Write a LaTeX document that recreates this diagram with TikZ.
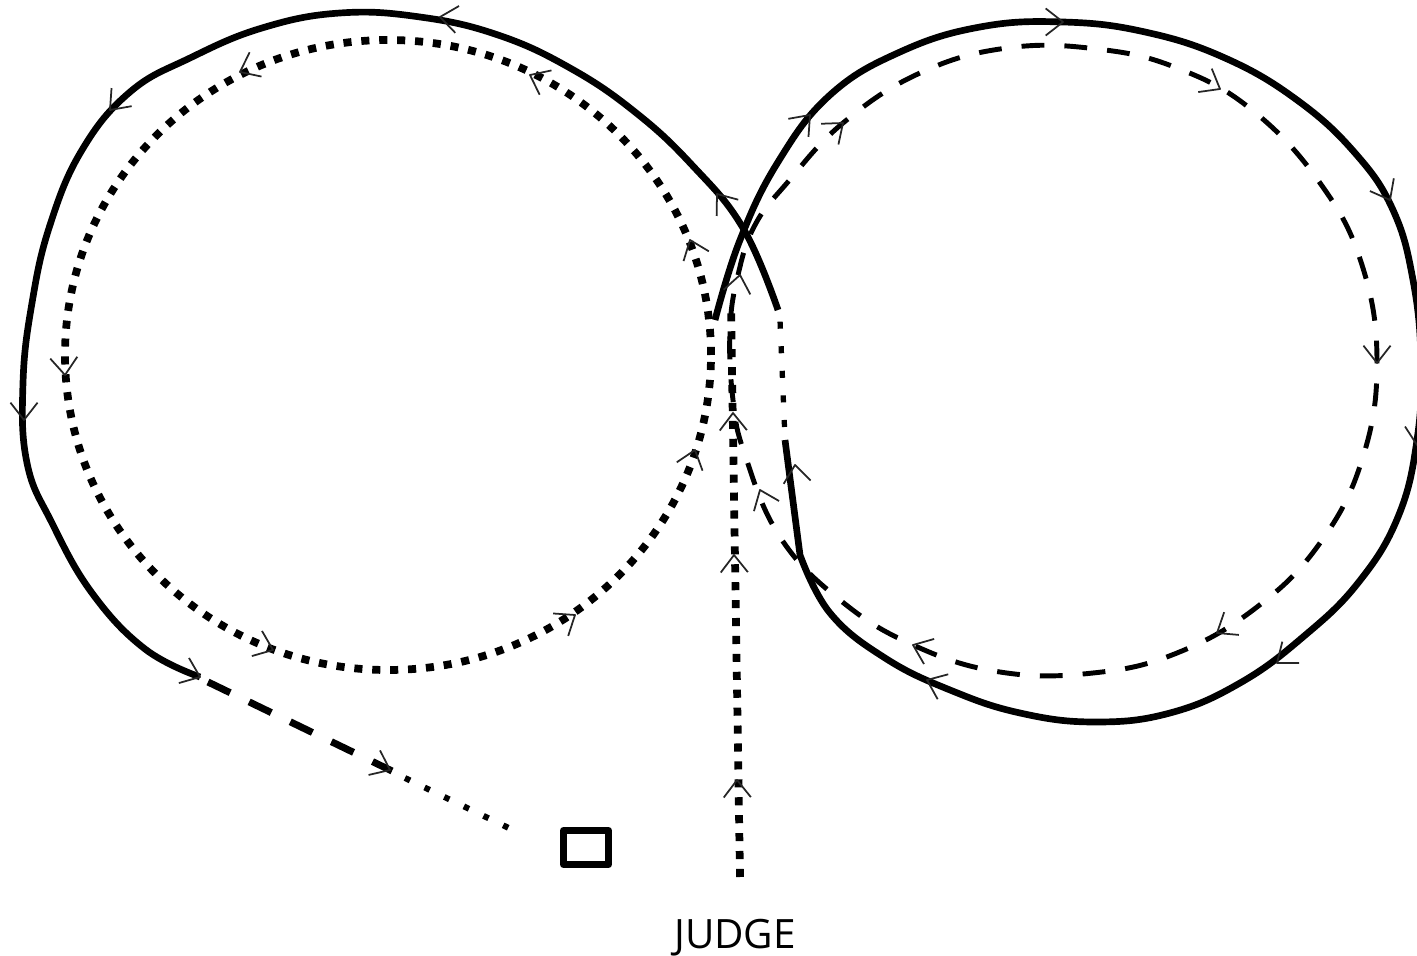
\documentclass[tikz,border=0pt]{standalone}
\usepackage{fontspec}
\newfontfamily\judgefont{Open Sans}
\usepackage{xcolor}

% small open tip put on a track: x, y, heading
\newcommand{\flowtip}[3]{\draw[tipline] (#1,#2) ++(#3+142:0.22) -- (#1,#2) -- ++(#3-142:0.22);}

\begin{document}
\begin{tikzpicture}[line join=round,
  solidtrack/.style={line width=1.9pt},
  dottrack/.style={line width=2.2pt,dash pattern=on 2.3pt off 2.8pt},
  dashtrack/.style={line width=1.4pt,dash pattern=on 6.5pt off 5.7pt},
  linkdots/.style={line width=1.5pt,dash pattern=on 2pt off 5pt},
  exitdash/.style={line width=2pt,dash pattern=on 7pt off 6pt},
  exitdots/.style={line width=1.7pt,dash pattern=on 1.6pt off 4.6pt},
  tipline/.style={black!85,line width=0.5pt}]
\useasboundingbox (0,0) rectangle (14.17,9.55);

% left ring (dotted) and centre line from the judge
\draw[dottrack] (3.88,6.00) ellipse (3.23 and 3.15);
\coordinate (start) at (7.40,0.78);
\coordinate (centre) at (7.31,6.50);
\draw[dottrack] (start) -- (centre);

% right ring (dashed)
\draw[dashtrack] plot[smooth cycle,tension=0.7] coordinates {(7.30,6.25) (7.38,6.80) (7.55,7.30) (7.87,7.72) (8.43,8.32) (9.20,8.82) (10.07,9.07) (10.97,9.06) (11.77,8.87) (12.52,8.45) (13.20,7.72) (13.62,6.90) (13.77,5.92) (13.62,4.95) (13.20,4.12) (12.57,3.48) (11.77,3.02) (10.93,2.82) (10.00,2.83) (9.13,3.10) (8.40,3.55) (7.80,4.18) (7.45,5.00) (7.33,5.55)};

% figure of eight (solid)
\draw[solidtrack] plot[smooth,tension=0.7] coordinates {(7.15,6.35) (7.40,7.15) (7.78,7.93) (8.30,8.60) (9.00,9.03) (9.80,9.28) (10.63,9.33) (11.45,9.23) (12.25,8.97) (12.97,8.55) (13.55,8.02) (13.93,7.45) (14.13,6.75) (14.21,5.95) (14.17,5.15) (13.98,4.38) (13.58,3.72) (13.03,3.18) (12.40,2.72) (11.70,2.42) (10.95,2.33) (10.20,2.42) (9.50,2.65) (8.85,2.97) (8.30,3.42) (8.00,4.00)} -- (7.85,5.15);
\draw[linkdots] (7.845,5.28) -- (7.80,6.35);
\draw[solidtrack] plot[smooth,tension=0.7] coordinates {(7.78,6.45) (7.43,7.27) (6.92,7.90) (6.35,8.43) (5.70,8.87) (4.98,9.20) (4.20,9.38) (3.40,9.42) (2.62,9.27) (1.90,8.97) (1.30,8.63) (0.82,8.05) (0.50,7.30) (0.32,6.52) (0.23,5.72) (0.27,4.92) (0.52,4.32) (0.92,3.62) (1.45,3.06) (2.00,2.78)};

% way out to the marker
\coordinate (exit) at (2.08,2.73);
\coordinate (slow) at (3.92,1.84);
\coordinate (dots) at (4.05,1.77);
\coordinate (halt) at (5.17,1.23);
\draw[exitdash] (exit) -- (slow);
\draw[exitdots] (dots) -- (halt);
\node[draw,line width=2pt,minimum width=0.45cm,minimum height=0.34cm,inner sep=0pt] (marker) at (5.86,1.075) {};

\node[font=\judgefont\fontsize{11.5}{13}\selectfont] (judge) at (7.35,0.17) {JUDGE};

% solid
\flowtip{4.40}{9.38}{172}
\flowtip{1.10}{8.45}{228}
\flowtip{0.24}{5.35}{270}
\flowtip{2.00}{2.78}{-22}
\flowtip{3.90}{1.85}{-25}
\flowtip{7.17}{7.61}{127}
\flowtip{8.10}{8.40}{48}
\flowtip{10.63}{9.33}{0}
\flowtip{13.90}{7.55}{-62}
\flowtip{14.17}{5.10}{-95}
\flowtip{12.77}{2.92}{218}
\flowtip{9.27}{2.75}{157}
\flowtip{7.95}{4.90}{97}
% dotted
\flowtip{5.30}{8.80}{154}
\flowtip{2.40}{8.83}{206}
\flowtip{0.65}{5.80}{274}
\flowtip{2.73}{3.05}{-22}
\flowtip{5.75}{3.40}{34}
\flowtip{6.95}{5.05}{72}
\flowtip{6.90}{7.15}{111}
\flowtip{7.37}{1.75}{91}
\flowtip{7.34}{4.00}{91}
\flowtip{7.33}{5.42}{91}
% dashed
\flowtip{8.43}{8.32}{40}
\flowtip{12.20}{8.66}{-30}
\flowtip{13.77}{5.92}{-90}
\flowtip{12.17}{3.22}{213}
\flowtip{9.13}{3.10}{158}
\flowtip{7.60}{4.65}{112}
\flowtip{7.40}{6.80}{80}
\end{tikzpicture}
\end{document}
